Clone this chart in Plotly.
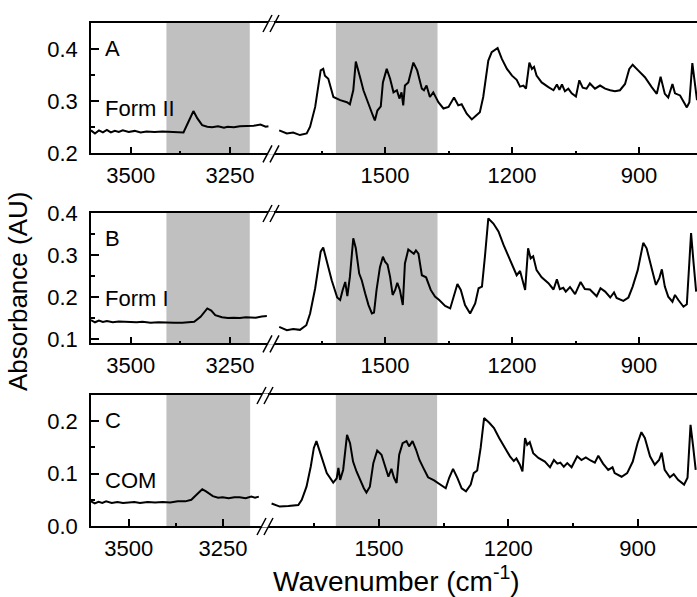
import plotly.graph_objects as go

# ---- data (wavenumber in cm-1, absorbance in AU) ----
# panel A, Form II
a_hi_wn = [3600, 3590, 3580, 3570, 3560, 3550, 3540, 3530, 3520, 3505, 3490, 3475, 3460, 3440,
           3420, 3400, 3385, 3367, 3353, 3342, 3332, 3320, 3307, 3295, 3280, 3265, 3256, 3240,
           3225, 3206, 3190, 3173, 3160, 3153]
a_hi_ab = [0.244, 0.238, 0.244, 0.240, 0.245, 0.240, 0.243, 0.241, 0.244, 0.241, 0.243, 0.240, 0.242, 0.241,
           0.242, 0.241, 0.241, 0.240, 0.263, 0.281, 0.267, 0.254, 0.251, 0.250, 0.252, 0.249, 0.251, 0.250,
           0.252, 0.252, 0.253, 0.255, 0.251, 0.252]
a_lo_wn = [1750, 1732, 1717, 1701, 1685, 1677, 1665, 1658, 1652, 1646, 1642, 1634, 1622, 1606,
           1590, 1583, 1575, 1569, 1563, 1558, 1551, 1543, 1537, 1529, 1524, 1518, 1510, 1505,
           1496, 1488, 1480, 1472, 1466, 1461, 1457, 1453, 1445, 1433, 1424, 1413, 1408, 1402,
           1394, 1386, 1374, 1362, 1350, 1337, 1327, 1319, 1307, 1295, 1284, 1276, 1268, 1256,
           1248, 1234, 1224, 1212, 1200, 1189, 1181, 1173, 1167, 1159, 1153, 1148, 1142, 1130,
           1114, 1102, 1094, 1088, 1082, 1075, 1067, 1059, 1049, 1041, 1033, 1024, 1016, 1004,
           992, 980, 968, 957, 945, 933, 923, 915, 902, 886, 870, 858, 849, 839, 831, 821,
           815, 803, 787, 781, 774, 767, 763]
a_lo_ab = [0.244, 0.238, 0.240, 0.235, 0.238, 0.251, 0.289, 0.324, 0.359, 0.362, 0.349, 0.343, 0.308, 0.302,
           0.298, 0.294, 0.321, 0.376, 0.355, 0.343, 0.321, 0.302, 0.290, 0.273, 0.263, 0.282, 0.290, 0.336,
           0.362, 0.343, 0.317, 0.321, 0.305, 0.317, 0.292, 0.330, 0.336, 0.374, 0.359, 0.324, 0.321, 0.330,
           0.308, 0.317, 0.298, 0.286, 0.289, 0.307, 0.292, 0.294, 0.276, 0.265, 0.273, 0.279, 0.308, 0.378,
           0.394, 0.402, 0.381, 0.362, 0.349, 0.341, 0.328, 0.330, 0.324, 0.374, 0.362, 0.366, 0.349, 0.336,
           0.327, 0.321, 0.332, 0.322, 0.332, 0.319, 0.324, 0.315, 0.309, 0.340, 0.326, 0.324, 0.334, 0.324,
           0.330, 0.324, 0.321, 0.319, 0.321, 0.333, 0.362, 0.370, 0.359, 0.346, 0.327, 0.314, 0.347, 0.314,
           0.307, 0.333, 0.315, 0.311, 0.288, 0.298, 0.373, 0.330, 0.302]

# panel B, Form I
b_hi_wn = [3600, 3590, 3580, 3570, 3560, 3545, 3530, 3515, 3500, 3485, 3470, 3450, 3430, 3410,
           3390, 3370, 3355, 3340, 3324, 3307, 3297, 3287, 3270, 3255, 3241, 3225, 3210, 3199,
           3185, 3170, 3157]
b_hi_ab = [0.145, 0.140, 0.144, 0.141, 0.143, 0.140, 0.142, 0.141, 0.141, 0.140, 0.141, 0.139, 0.140, 0.139,
           0.139, 0.139, 0.140, 0.141, 0.153, 0.173, 0.168, 0.157, 0.152, 0.150, 0.151, 0.150, 0.152, 0.152,
           0.151, 0.154, 0.155]
b_lo_wn = [1750, 1732, 1717, 1701, 1686, 1677, 1665, 1658, 1652, 1646, 1638, 1626, 1613, 1606,
           1600, 1594, 1589, 1583, 1575, 1569, 1561, 1555, 1547, 1539, 1531, 1526, 1520, 1512,
           1505, 1500, 1494, 1488, 1482, 1476, 1471, 1465, 1458, 1453, 1445, 1437, 1432, 1427,
           1421, 1413, 1403, 1392, 1382, 1372, 1358, 1346, 1338, 1329, 1321, 1311, 1299, 1287,
           1279, 1271, 1264, 1256, 1244, 1232, 1220, 1208, 1196, 1189, 1181, 1175, 1169, 1162,
           1156, 1150, 1142, 1130, 1114, 1102, 1094, 1087, 1079, 1073, 1063, 1051, 1038, 1028,
           1016, 1000, 991, 980, 968, 959, 953, 937, 925, 915, 903, 890, 882, 870, 860, 852,
           846, 839, 831, 821, 815, 807, 795, 787, 777, 771, 765]
b_lo_ab = [0.129, 0.121, 0.124, 0.122, 0.133, 0.161, 0.221, 0.264, 0.308, 0.318, 0.284, 0.240, 0.199, 0.193,
           0.217, 0.236, 0.202, 0.248, 0.340, 0.316, 0.256, 0.240, 0.209, 0.181, 0.161, 0.163, 0.217, 0.271,
           0.296, 0.284, 0.277, 0.248, 0.205, 0.217, 0.234, 0.217, 0.181, 0.280, 0.313, 0.308, 0.303, 0.311,
           0.303, 0.252, 0.247, 0.217, 0.201, 0.193, 0.179, 0.173, 0.202, 0.231, 0.217, 0.181, 0.161, 0.185,
           0.221, 0.225, 0.296, 0.387, 0.375, 0.356, 0.324, 0.296, 0.264, 0.252, 0.262, 0.240, 0.217, 0.316,
           0.292, 0.297, 0.264, 0.247, 0.233, 0.218, 0.242, 0.219, 0.222, 0.213, 0.224, 0.207, 0.236, 0.219,
           0.218, 0.202, 0.221, 0.213, 0.199, 0.211, 0.198, 0.191, 0.199, 0.225, 0.264, 0.329, 0.316, 0.268,
           0.229, 0.245, 0.266, 0.225, 0.201, 0.189, 0.205, 0.193, 0.177, 0.183, 0.352, 0.280, 0.213]

# panel C, COM
c_hi_wn = [3600, 3590, 3580, 3570, 3560, 3545, 3530, 3515, 3500, 3485, 3470, 3450, 3430, 3410,
           3390, 3370, 3350, 3334, 3321, 3305, 3295, 3277, 3263, 3251, 3235, 3220, 3206, 3190,
           3175, 3165, 3155]
c_hi_ab = [0.047, 0.043, 0.046, 0.044, 0.047, 0.044, 0.046, 0.044, 0.045, 0.046, 0.044, 0.046, 0.045, 0.046,
           0.045, 0.047, 0.047, 0.050, 0.059, 0.070, 0.066, 0.057, 0.054, 0.055, 0.053, 0.055, 0.055, 0.053,
           0.056, 0.054, 0.056]
c_lo_wn = [1749, 1730, 1710, 1687, 1679, 1668, 1658, 1651, 1645, 1635, 1621, 1606, 1598, 1594,
           1590, 1583, 1574, 1567, 1560, 1552, 1542, 1535, 1529, 1521, 1513, 1504, 1494, 1486,
           1478, 1471, 1465, 1459, 1453, 1445, 1436, 1430, 1422, 1414, 1406, 1397, 1386, 1372,
           1358, 1345, 1337, 1328, 1318, 1308, 1298, 1287, 1280, 1272, 1264, 1256, 1244, 1233,
           1221, 1208, 1196, 1187, 1181, 1173, 1167, 1161, 1156, 1150, 1142, 1130, 1115, 1103,
           1094, 1086, 1079, 1071, 1063, 1053, 1040, 1030, 1020, 1009, 999, 991, 980, 968,
           958, 953, 937, 924, 911, 900, 891, 883, 871, 860, 850, 844, 837, 825, 816, 806,
           792, 784, 777, 771, 765]
c_lo_ab = [0.043, 0.037, 0.038, 0.040, 0.050, 0.075, 0.114, 0.149, 0.162, 0.136, 0.101, 0.083, 0.091, 0.111,
           0.088, 0.107, 0.174, 0.158, 0.123, 0.104, 0.085, 0.072, 0.064, 0.075, 0.120, 0.144, 0.136, 0.117,
           0.094, 0.109, 0.092, 0.082, 0.136, 0.158, 0.162, 0.152, 0.162, 0.146, 0.126, 0.111, 0.093, 0.087,
           0.079, 0.072, 0.092, 0.109, 0.092, 0.072, 0.066, 0.079, 0.101, 0.106, 0.149, 0.206, 0.197, 0.187,
           0.168, 0.149, 0.133, 0.124, 0.129, 0.117, 0.104, 0.168, 0.155, 0.160, 0.139, 0.130, 0.123, 0.112,
           0.126, 0.119, 0.121, 0.113, 0.120, 0.112, 0.133, 0.126, 0.131, 0.125, 0.121, 0.134, 0.119, 0.107,
           0.112, 0.101, 0.094, 0.101, 0.123, 0.158, 0.179, 0.168, 0.133, 0.117, 0.126, 0.140, 0.107, 0.093,
           0.099, 0.088, 0.079, 0.092, 0.193, 0.152, 0.107]

panel_letters = ["A", "B", "C"]
sample_names = ["Form II", "Form I", "COM"]
y_ranges = [[0.2, 0.45], [0.09, 0.40], [0.0, 0.25]]
hi_ranges = [[3600, 3144], [3600, 3144], [3600, 3136]]
lo_ranges = [[1767, 763], [1767, 763], [1762, 762]]
hi_shade = [[3410, 3200], [3410, 3200], [3400, 3178]]
lo_shade = [[1616, 1376], [1616, 1376], [1600, 1365]]

spectra = [(a_hi_wn, a_hi_ab, a_lo_wn, a_lo_ab),
           (b_hi_wn, b_hi_ab, b_lo_wn, b_lo_ab),
           (c_hi_wn, c_hi_ab, c_lo_wn, c_lo_ab)]

W, H = 697, 597
FONT = "Liberation Sans, Arial, sans-serif"

def px(x):
    return x / W

def py(y):
    return 1 - y / H

# pixel geometry of the three panels (top, bottom, x of the axis break)
rows = [(23, 153.3, 272), (213, 343.3, 272), (395, 526, 266)]
x_left = 91

fig = go.Figure()
shapes = []
annotations = []

for i, (top, bot, brk) in enumerate(rows):
    xl = "x" + ("" if i == 0 else str(2 * i + 1))
    xr = "x" + str(2 * i + 2)
    yy = "y" + ("" if i == 0 else str(i + 1))
    hw, ha, lw, la = spectra[i]
    fig.add_trace(go.Scatter(x=hw, y=ha, xaxis=xl, yaxis=yy, mode="lines",
                             line=dict(color="black", width=2), showlegend=False))
    fig.add_trace(go.Scatter(x=lw, y=la, xaxis=xr, yaxis=yy, mode="lines",
                             line=dict(color="black", width=2), showlegend=False))

    common_x = dict(showline=True, linecolor="black", linewidth=1.5, mirror=True,
                    ticks="inside", ticklen=7, tickwidth=1.5, tickcolor="black",
                    showgrid=False, zeroline=False, anchor=yy, automargin=False,
                    tickfont=dict(family=FONT, size=22, color="black"),
                    ticklabelstandoff=2)
    lay_l = "xaxis" + ("" if i == 0 else str(2 * i + 1))
    lay_r = "xaxis" + str(2 * i + 2)
    lay_y = "yaxis" + ("" if i == 0 else str(i + 1))
    fig.update_layout({
        lay_l: dict(common_x, domain=[px(x_left), px(brk)], range=hi_ranges[i],
                    tick0=3500, dtick=250,
                    minor=dict(dtick=125, tick0=3500, ticks="inside", ticklen=3,
                               tickwidth=1.5, tickcolor="black", showgrid=False)),
        lay_r: dict(common_x, domain=[px(brk), 1], range=lo_ranges[i],
                    tick0=900, dtick=300,
                    minor=dict(dtick=150, tick0=900, ticks="inside", ticklen=3,
                               tickwidth=1.5, tickcolor="black", showgrid=False)),
        lay_y: dict(domain=[py(bot), py(top)], range=y_ranges[i], anchor=xl,
                    showline=True, linecolor="black", linewidth=1.5, mirror=False,
                    ticks="inside", ticklen=8, tickwidth=1.5, tickcolor="black",
                    dtick=0.1, tick0=0, tickformat=".1f", automargin=False,
                    minor=dict(dtick=0.05, tick0=0, ticks="inside", ticklen=4,
                               tickwidth=1.5, tickcolor="black", showgrid=False),
                    showgrid=False, zeroline=False, ticklabelstandoff=7,
                    tickfont=dict(family=FONT, size=22, color="black")),
    })

    # grey bands
    shapes.append(dict(type="rect", xref=xl, yref=yy + " domain", x0=hi_shade[i][0], x1=hi_shade[i][1],
                       y0=0, y1=1, fillcolor="#c0c0c0", line_width=0, layer="below"))
    shapes.append(dict(type="rect", xref=xr, yref=yy + " domain", x0=lo_shade[i][0], x1=lo_shade[i][1],
                       y0=0, y1=1, fillcolor="#c0c0c0", line_width=0, layer="below"))

    # axis break marks
    for yline in (top, bot):
        shapes.append(dict(type="rect", xref="paper", yref="paper",
                           x0=px(brk - 4), x1=px(brk + 2), y0=py(yline + 1.5), y1=py(yline - 1.5),
                           fillcolor="white", line_width=0, layer="above"))
        for off in (-5, 2):
            shapes.append(dict(type="line", xref="paper", yref="paper",
                               x0=px(brk + off - 4), y0=py(yline + 9),
                               x1=px(brk + off + 5), y1=py(yline - 8),
                               line=dict(color="black", width=1.5), layer="above"))

    annotations.append(dict(text=panel_letters[i], xref="paper", yref="paper",
                            x=px(103), y=py(top + 25), xanchor="left", yanchor="middle",
                            showarrow=False, font=dict(family=FONT, size=22, color="black")))
    annotations.append(dict(text=sample_names[i], xref="paper", yref="paper",
                            x=px(103), y=py(top + 85), xanchor="left", yanchor="middle",
                            showarrow=False, font=dict(family=FONT, size=22, color="black")))

annotations.append(dict(text="Wavenumber (cm<sup>-1</sup>)", xref="paper", yref="paper",
                        x=px(396), y=py(579), xanchor="center", yanchor="middle", showarrow=False,
                        font=dict(family=FONT, size=28, color="black")))
annotations.append(dict(text="Absorbance (AU)", xref="paper", yref="paper",
                        x=px(18), y=py(292), xanchor="center", yanchor="middle", textangle=-90,
                        showarrow=False, font=dict(family=FONT, size=26, color="black")))

fig.update_layout(width=W, height=H, margin=dict(l=0, r=0, t=0, b=0, autoexpand=False),
                  paper_bgcolor="white", plot_bgcolor="white",
                  shapes=shapes, annotations=annotations, showlegend=False)

# drop the default page margin so the figure sits at the window's top-left corner
fig.write_html("out.html", config={"displayModeBar": False},
               post_script="document.body.style.margin='0';")
